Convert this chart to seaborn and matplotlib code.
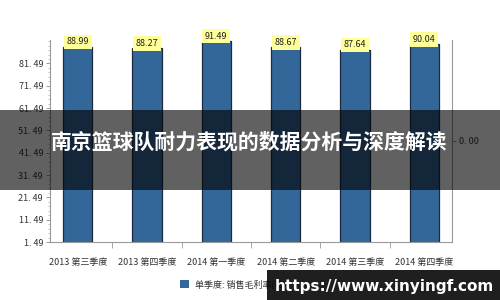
import matplotlib
matplotlib.use("Agg")
import matplotlib.pyplot as plt
import seaborn as sns
import pandas as pd
from matplotlib.patches import Rectangle, Patch
from matplotlib.ticker import FixedLocator, AutoMinorLocator

categories = ["2013 第三季度", "2013 第四季度", "2014 第一季度",
              "2014 第二季度", "2014 第三季度", "2014 第四季度"]
values = [88.99, 88.27, 91.49, 88.67, 87.64, 90.04]
yticks = [1.49, 11.49, 21.49, 31.49, 41.49, 51.49, 61.49, 71.49, 81.49]
legend_label = "单季度: 销售毛利率(%)"
title = "南京篮球队耐力表现的数据分析与深度解读"
watermark = "https://www.xinyingf.com"

sns.set_style("white")
plt.rcParams['font.family'] = ['Noto Sans CJK SC', 'DejaVu Sans']

df = pd.DataFrame({"cat": categories, "val": values})

fig = plt.figure(figsize=(5, 3), dpi=100)
ax = fig.add_axes([0.10, 1 - 242/300, 0.804, (242 - 40)/300])

bar_color = "#336699"
sns.barplot(data=df, x="cat", y="val", color=bar_color, width=0.42,
            edgecolor="#1c2b40", linewidth=0.9, saturation=1, ax=ax)

ax.set_xlim(-0.4, 5.4)
ax.set_ylim(1.49, 92.0)
ax.set_xlabel("")
ax.set_ylabel("")

ax.yaxis.set_major_locator(FixedLocator(yticks))
ax.set_yticklabels([f"{v:.2f}".replace(".", ". ") for v in yticks])
ax.yaxis.set_minor_locator(AutoMinorLocator(5))
ax.tick_params(axis="y", which="major", left=True, length=3, width=0.6,
               color="#888888", labelsize=6.5, labelcolor="#333333", pad=2)
ax.tick_params(axis="y", which="minor", left=True, length=1.5, width=0.5,
               color="#aaaaaa")

ax.set_xticks(range(len(categories)))
ax.set_xticklabels(categories)
ax.xaxis.set_minor_locator(FixedLocator([i + 0.5 for i in range(-1, len(categories))]))
ax.tick_params(axis="x", which="major", bottom=False, labelsize=6.5,
               labelcolor="#333333", pad=8)
ax.tick_params(axis="x", which="minor", bottom=True, length=4, width=0.6,
               color="#999999")

for s in ["left", "bottom", "right"]:
    ax.spines[s].set_color("#999999")
    ax.spines[s].set_linewidth(0.8)
ax.spines["top"].set_visible(False)

for i, v in enumerate(values):
    ax.text(i, v + 0.2, f"{v:.2f}", ha="center", va="bottom", fontsize=6.5,
            color="#222222",
            bbox=dict(boxstyle="square,pad=0.3", fc="#ffff99", ec="none"))

ax2 = ax.twinx()
ax2.set_ylim(-1, 1)
ax2.set_yticks([0])
ax2.set_yticklabels(["0. 00"])
ax2.tick_params(axis="y", right=True, length=3, width=0.6, color="#888888",
                labelsize=6.5, labelcolor="#333333", pad=2)
for s in ["left", "bottom", "right", "top"]:
    ax2.spines[s].set_visible(False)

fig.legend(handles=[Patch(facecolor=bar_color, edgecolor="none")],
           labels=[legend_label], loc="center left",
           bbox_to_anchor=(172/500, 1 - 284/300), frameon=False,
           fontsize=6.5, handlelength=1.0, handleheight=1.0, handletextpad=0.6,
           labelcolor="#333333")

# overlay band with title
fig.patches.append(Rectangle((0, 1 - 190/300), 1, 80/300, transform=fig.transFigure,
                             facecolor="black", alpha=0.62, edgecolor="none", zorder=10))
fig.text(249/500, 1 - 142/300, title, ha="center", va="center", color="white",
         fontsize=15.0, fontweight="bold", zorder=11)

# watermark box
fig.patches.append(Rectangle((267/500, 0), 233/500, 30/300, transform=fig.transFigure,
                             facecolor="black", alpha=0.88, edgecolor="none", zorder=10))
fig.text(384/500, 1 - 286/300, watermark, ha="center", va="center", color="white",
         fontsize=11.0, fontweight="bold", family=["DejaVu Sans"], zorder=11)

fig.savefig("out.png", dpi=100)
